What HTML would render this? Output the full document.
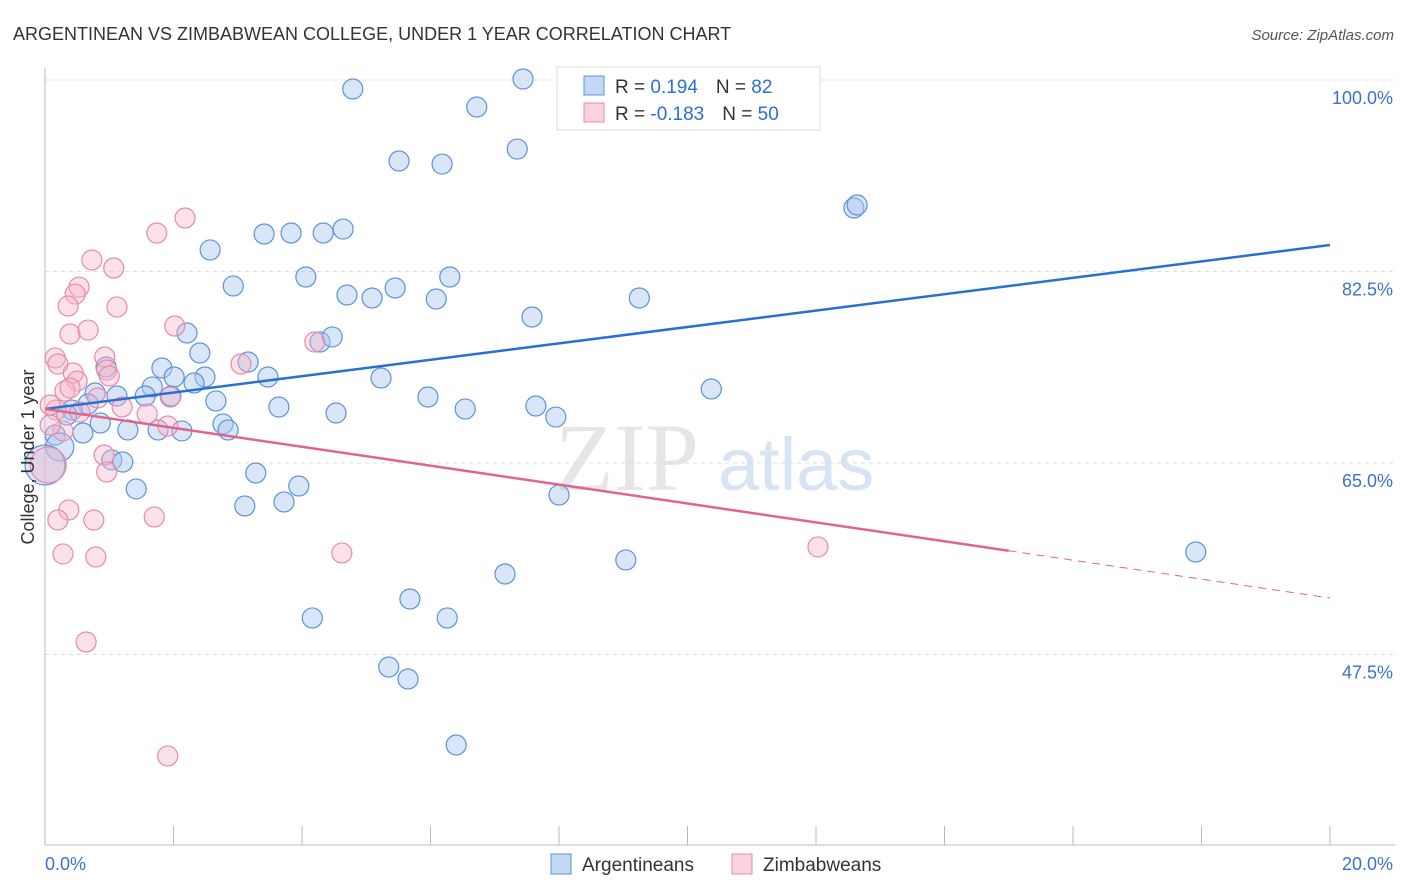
<!DOCTYPE html>
<html><head><meta charset="utf-8"><style>
body{margin:0;background:#fff;font-family:"Liberation Sans",sans-serif}
svg{display:block}
</style></head><body>
<svg id="chart" width="1406" height="892" viewBox="0 0 1406 892" xmlns="http://www.w3.org/2000/svg">
<text x="13" y="40" font-size="18" fill="#333">ARGENTINEAN VS ZIMBABWEAN COLLEGE, UNDER 1 YEAR CORRELATION CHART</text>
<text x="1394" y="40" font-size="15" fill="#555" font-style="italic" text-anchor="end">Source: ZipAtlas.com</text>
<g>
<text x="555" y="490" font-size="96" font-family="Liberation Serif,serif" fill="#e6e6e6">ZIP</text>
<text x="718" y="490" font-size="74" fill="#d6e4f5">atlas</text>
</g>
<g id="grid"></g>
<g id="axes"></g>
<g id="pts"></g>
<g id="trend"></g>
<text transform="translate(34,457) rotate(-90)" text-anchor="middle" font-size="18" fill="#333">College, Under 1 year</text>
<g>
<rect x="557" y="67" width="263" height="63" fill="#fff" stroke="#ddd"/>
<rect x="584" y="76" width="20" height="19" fill="rgba(168,200,240,0.7)" stroke="#5b93d9"/>
<rect x="584" y="103" width="20" height="19" fill="rgba(245,180,200,0.6)" stroke="#e88aa8"/>
<text x="615" y="93" font-size="19" fill="#333">R = <tspan fill="#2a6fd4"> 0.194</tspan><tspan dx="18">N = </tspan><tspan fill="#2a6fd4">82</tspan></text>
<text x="615" y="120" font-size="19" fill="#333">R = <tspan fill="#2a6fd4">-0.183</tspan><tspan dx="18">N = </tspan><tspan fill="#2a6fd4">50</tspan></text>
</g>
<g>
<rect x="551" y="854" width="20" height="20" fill="rgba(168,200,240,0.7)" stroke="#5b93d9"/>
<text x="582" y="871" font-size="19" fill="#333">Argentineans</text>
<rect x="732" y="854" width="20" height="20" fill="rgba(245,180,200,0.6)" stroke="#e88aa8"/>
<text x="763" y="871" font-size="19" fill="#333">Zimbabweans</text>
</g>
</svg>
<script>
const yTicks=[100,82.5,65,47.5];
const yTickLabels=["100.0%","82.5%","65.0%","47.5%"];
const xTicks=[0,2,4,6,8,10,12,14,16,18,20];
const xEndLabels=["0.0%","20.0%"];
const blueX=[4.79,7.44,6.72,8.95,9.49,8.17,7.35,5.51,6.18,12.59,12.64,2.57,3.41,3.83,4.33,4.64,2.93,4.06,4.70,5.09,5.45,6.09,6.30,7.58,9.25,2.21,2.41,4.28,4.47,3.16,1.82,0.95,2.01,2.49,2.32,1.67,3.47,5.23,10.37,0.78,1.12,1.56,1.96,2.66,5.96,3.64,4.53,6.54,7.64,7.95,0.67,0.42,0.34,0.86,2.77,2.85,1.29,1.76,2.13,0.59,0.16,0.23,1.04,1.21,3.28,1.42,3.95,3.72,3.11,8.00,17.91,9.04,7.16,5.68,4.16,6.26,5.35,5.65,6.40,0];
const blueY=[99.18,100.09,97.53,100,100,97.08,93.69,92.60,92.32,88.30,88.58,84.47,85.93,86.02,86.02,86.38,81.18,82.00,80.35,80.08,80.99,79.99,82.00,78.34,80.08,76.88,75.05,76.06,76.52,74.23,73.68,73.77,72.86,72.86,72.31,71.95,72.86,72.77,71.76,71.40,71.12,71.12,71.12,70.67,71.03,70.12,69.57,69.94,70.21,69.20,70.39,69.84,69.39,68.66,68.57,68.02,68.02,68.02,67.93,67.74,67.56,66.46,65.28,65.09,64.09,62.63,62.90,61.44,61.07,62.08,56.87,56.14,54.86,52.57,50.84,50.84,46.36,45.26,39.23,64.82];
const blueR=[10,10,10,10,10,10,10,10,10,10,10,10,10,10,10,10,10,10,10,10,10,10,10,10,10,10,10,10,10,10,10,10,10,10,10,10,10,10,10,10,10,10,10,10,10,10,10,10,10,10,10,10,10,10,10,10,10,10,10,10,10,14,10,10,10,10,10,10,10,10,10,10,10,10,10,10,10,10,10,20];
const pinkX=[2.18,1.74,0.73,1.07,0.53,0.47,0.36,1.12,0.39,0.67,2.02,4.20,0.93,0.16,0.20,3.05,0.96,1.00,0.44,0.50,0.31,0.39,0.82,1.20,1.59,1.95,1.91,0.17,0.08,0.54,0.28,0.08,0.92,0.96,0.37,0.20,0.76,1.70,0.28,0.79,4.62,12.03,0.64,1.91,0.05];
const pinkY=[87.39,86.02,83.55,82.82,81.08,80.44,79.35,79.26,76.79,77.15,77.52,76.06,74.69,74.60,74.05,74.05,73.50,72.95,73.23,72.49,71.58,71.86,70.94,70.12,69.48,71.03,68.38,69.84,70.30,69.66,67.93,68.47,65.73,64.18,60.71,59.79,59.79,60.07,56.69,56.41,56.78,57.33,48.64,38.23,64.82];
const blueTrend=[69.94,84.92]; // y at x=0 and x=20
const pinkTrend=[69.94,52.66];
const pinkSolidEnd=15.0;

const NS="http://www.w3.org/2000/svg";
const X0=45,X1=1330,Y100=80,PXPER=10.943;
const sx=v=>X0+(X1-X0)*v/20;
const sy=v=>Y100+(100-v)*PXPER;
function mk(tag,attrs,parent){const e=document.createElementNS(NS,tag);for(const k in attrs)e.setAttribute(k,attrs[k]);parent.appendChild(e);return e;}
const grid=document.getElementById('grid'),axes=document.getElementById('axes'),pts=document.getElementById('pts'),trend=document.getElementById('trend');
yTicks.forEach((t,i)=>{
 const l=mk('line',{x1:45,x2:1395,y1:sy(t),y2:sy(t),stroke:'#ddd','stroke-dasharray':'4,4'},grid);
 
 
 const tx=mk('text',{x:1393,y:sy(t)+24,'text-anchor':'end','font-size':18,fill:'#3a72cc'},grid);
 tx.textContent=yTickLabels[i];
 
 
});
const ax=mk('line',{x1:45,x2:1395,y1:845,y2:845,stroke:'#bbb'},axes);


const ay=mk('line',{x1:45,x2:45,y1:68,y2:845,stroke:'#bbb'},axes);


xTicks.forEach(t=>{
 const k=mk('line',{x1:sx(t),x2:sx(t),y1:826,y2:845,stroke:'#bbb'},axes);
 
 
});
[[0,'start',45],[20,'end',1393]].forEach((a,i)=>{
 const tx=mk('text',{x:a[2],y:870,'text-anchor':a[1],'font-size':18,fill:'#3a72cc'},axes);
 tx.textContent=xEndLabels[i];
 
 
});
blueX.forEach((v,i)=>{
 const c=mk('circle',{cx:sx(v),cy:sy(blueY[i]),r:blueR[i],fill:'rgba(168,200,240,0.45)',stroke:'#5b93d9','stroke-width':1.2},pts);
 
 
});
pinkX.forEach((v,i)=>{
 const r=i===pinkX.length-1?18:10;
 const c=mk('circle',{cx:sx(v),cy:sy(pinkY[i]),r:r,fill:'rgba(245,180,200,0.4)',stroke:'#e88aa8','stroke-width':1.2},pts);
 
 
});
const bl=mk('line',{x1:sx(0),y1:sy(blueTrend[0]),x2:sx(20),y2:sy(blueTrend[1]),stroke:'#2a6fd4','stroke-width':2.5},trend);


const py=x=>pinkTrend[0]+(pinkTrend[1]-pinkTrend[0])*x/20;
const pl=mk('line',{x1:sx(0),y1:sy(py(0)),x2:sx(pinkSolidEnd),y2:sy(py(pinkSolidEnd)),stroke:'#e0648f','stroke-width':2.5},trend);


const pd=mk('line',{x1:sx(pinkSolidEnd),y1:sy(py(pinkSolidEnd)),x2:sx(20),y2:sy(py(20)),stroke:'#e0648f','stroke-width':1,'stroke-dasharray':'8,6'},trend);


</script>
</body></html>
